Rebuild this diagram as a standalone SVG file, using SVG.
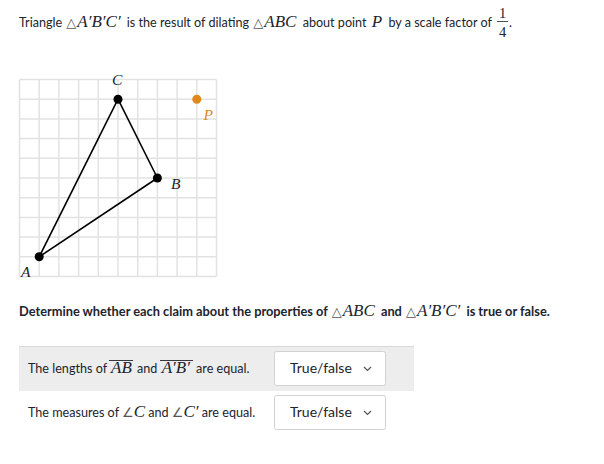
<svg xmlns="http://www.w3.org/2000/svg" width="604" height="464" viewBox="0 0 604 464">
<style>
.t{font-family:Lato,"Open Sans","Liberation Sans",sans-serif;font-size:12.6px;fill:#21242c}
.b{font-weight:bold;font-size:12.8px}
.m{font-family:"Liberation Serif",serif;font-style:italic;font-weight:normal;font-size:17px;fill:#21242c}
.s{font-family:"DejaVu Sans",sans-serif;font-style:normal;font-weight:normal;font-size:13px;fill:#555}
.n{font-family:"Liberation Serif",serif;font-size:14.5px;fill:#21242c}
.g{stroke:#e2e2e2;stroke-width:1.5;fill:none}
.lbl{font-family:"Liberation Serif",serif;font-style:italic;font-size:15.5px;fill:#21242c}
.org{fill:#e0881c}
.dd{fill:#fff;stroke:#d2d2d2;stroke-width:1}
.ddt{font-family:Lato,"Open Sans","Liberation Sans",sans-serif;font-size:14px;fill:#21242c}
.chev{fill:none;stroke:#555;stroke-width:1.2}
.ov{stroke:#21242c;stroke-width:0.9}
</style>
<rect width="604" height="464" fill="#fff"/>
<g id="title">
<text class="t" x="19" y="27">Triangle <tspan class="s" dx="1">△</tspan><tspan class="m" dx="1">A′B′C′</tspan><tspan dx="3"> is the result of dilating </tspan><tspan class="s" dx="1">△</tspan><tspan class="m" dx="1">ABC</tspan><tspan dx="3"> about point </tspan><tspan class="m" dx="2">P</tspan><tspan dx="3"> by a scale factor of</tspan></text>
<text class="n" x="502.5" y="18" text-anchor="middle">1</text>
<line x1="497" y1="21.5" x2="508" y2="21.5" stroke="#21242c" stroke-width="0.8"/>
<text class="n" x="502.5" y="36.5" text-anchor="middle">4</text>
<text class="t" x="509" y="27">.</text>
</g>
<g id="grid">
<path class="g" d="M19.5 79.5V276.5M39.2 79.5V276.5M58.9 79.5V276.5M78.6 79.5V276.5M98.3 79.5V276.5M118 79.5V276.5M137.7 79.5V276.5M157.4 79.5V276.5M177.1 79.5V276.5M196.8 79.5V276.5M216.5 79.5V276.5M19.5 79.5H216.5M19.5 99.2H216.5M19.5 118.9H216.5M19.5 138.6H216.5M19.5 158.3H216.5M19.5 178H216.5M19.5 197.7H216.5M19.5 217.4H216.5M19.5 237.1H216.5M19.5 256.8H216.5M19.5 276.5H216.5"/>
</g>
<g id="connectors" stroke="#000" stroke-width="1.6" fill="none">
<line x1="39.2" y1="256.8" x2="118" y2="99.2"/>
<line x1="118" y1="99.2" x2="157.4" y2="178"/>
<line x1="157.4" y1="178" x2="39.2" y2="256.8"/>
</g>
<g id="A"><circle cx="39.2" cy="256.8" r="4.5"/><text class="lbl" x="21" y="277">A</text></g>
<g id="B"><circle cx="157.4" cy="178" r="4.5"/><text class="lbl" x="171" y="189">B</text></g>
<g id="C"><circle cx="118" cy="99.2" r="4.5"/><text class="lbl" x="112" y="85">C</text></g>
<g id="P"><circle class="org" cx="196.8" cy="99.2" r="4.5"/><text class="lbl org" x="203.5" y="120">P</text></g>
<g id="question">
<text class="t b" x="19" y="316">Determine whether each claim about the properties of <tspan class="s" dx="1">△</tspan><tspan class="m" dx="1">ABC</tspan><tspan dx="3"> and </tspan><tspan class="s" dx="1">△</tspan><tspan class="m" dx="1">A′B′C′</tspan><tspan dx="3"> is true or false.</tspan></text>
</g>
<g id="row1">
<rect x="19" y="346" width="395" height="45" fill="#ededed"/>
<line x1="19" y1="346.5" x2="414" y2="346.5" stroke="#d8d8d8"/>
<text class="t" x="28" y="373">The lengths of <tspan class="m" dx="1">AB</tspan><tspan dx="2"> and </tspan><tspan class="m" dx="1">A′B′</tspan><tspan dx="3"> are equal.</tspan></text>
<line class="ov" x1="109" y1="360.5" x2="133" y2="360.5"/>
<line class="ov" x1="160" y1="360.5" x2="193" y2="360.5"/>
<rect class="dd" x="274.5" y="351.5" width="111" height="34" rx="2"/>
<text class="ddt" x="290" y="373">True/false</text>
<path class="chev" d="M364 367l3.5 3.5 3.5-3.5"/>
</g>
<g id="row2">
<text class="t" x="28" y="417">The measures of <tspan class="s">∠</tspan><tspan class="m">C</tspan> and <tspan class="s">∠</tspan><tspan class="m">C′</tspan> are equal.</text>
<rect class="dd" x="274.5" y="395.5" width="111" height="34" rx="2"/>
<text class="ddt" x="290" y="417">True/false</text>
<path class="chev" d="M364 411l3.5 3.5 3.5-3.5"/>
</g>
</svg>
